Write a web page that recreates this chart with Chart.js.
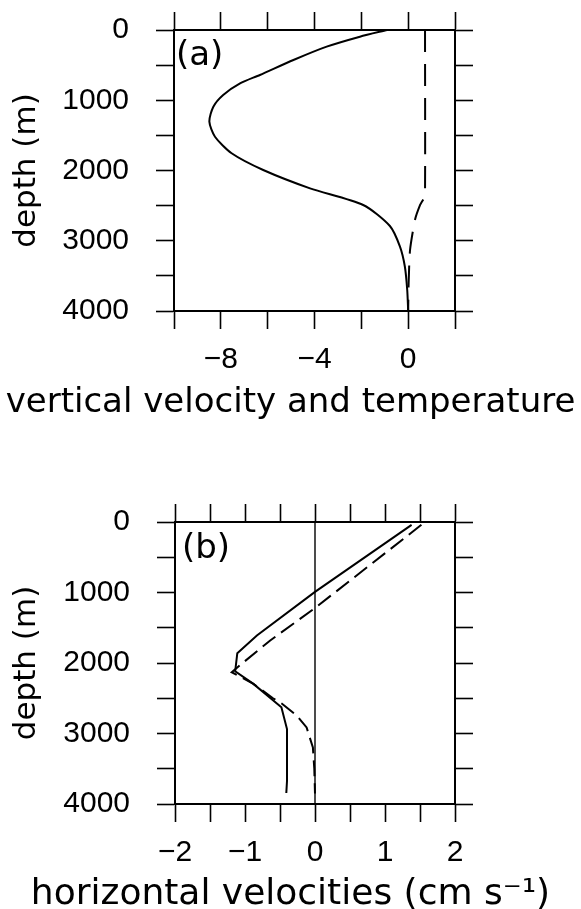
<!DOCTYPE html>
<html><head><meta charset="utf-8">
<script src="https://cdn.jsdelivr.net/npm/chart.js@4.4.1/dist/chart.umd.min.js"></script>
<style>
html,body{margin:0;padding:0;background:#fff;}
body{width:581px;height:909px;position:relative;overflow:hidden;}
canvas{position:absolute;left:0;}
#ca{top:-30px;} #cb{top:440px;}
</style></head><body>
<canvas id="ca" width="581" height="470"></canvas>
<canvas id="cb" width="581" height="469"></canvas>
<script>
// ---------- Panel (a): vertical velocity (solid) and temperature (dashed)
const depthW = [0, 95, 237, 427, 640, 760, 925, 1092, 1305, 1519, 1755, 1993, 2254, 2491, 2790, 3084, 3370, 3701, 4000];
const vertVel = [-0.9, -2.06, -3.48, -4.9, -6.33, -7.18, -7.9, -8.32, -8.49, -8.25, -7.54, -6.19, -4.19, -1.92, -0.78, -0.35, -0.14, -0.04, 0];
const depthT = [0, 2320, 2400, 2491, 2705, 3132, 3600, 4000];
const temperature = [0.72, 0.72, 0.66, 0.51, 0.29, 0.08, 0.02, 0];

// ---------- Panel (b): horizontal velocities u (solid) and v (dashed)
const depthU = [40, 992, 1609, 1861, 2117, 2296, 2629, 2937, 3673, 3844];
const velU = [1.38, 0, -0.83, -1.11, -1.14, -0.88, -0.48, -0.40, -0.40, -0.41];
const depthV = [40, 1220, 1680, 1989, 2131, 2296, 2500, 2572, 2747, 2914, 3199, 3500, 3850];
const velV = [1.52, 0, -0.64, -1.02, -1.19, -0.88, -0.6, -0.48, -0.26, -0.12, -0.03, -0.01, 0];
const zeroDepth = [0, 4000];
const zeroVel = [0, 0];

// ---------- Tick labels and texts
const xTicksA = [-8, -4, 0];
const xLabelsA = ['−8', '−4', '0'];
const xTicksB = [-2, -1, 0, 1, 2];
const xLabelsB = ['−2', '−1', '0', '1', '2'];
const yTicks = [0, 1000, 2000, 3000, 4000];
const yLabels = ['0', '1000', '2000', '3000', '4000'];
const titleA = 'vertical velocity and temperature';
const titleB = 'horizontal velocities (cm s⁻¹)';
const yTitle = 'depth (m)';
const panelA = '(a)';
const panelB = '(b)';

const pts = (xs, ys) => xs.map((x, i) => ({x: x, y: ys[i]}));
const labelFor = (vals, labs) => (v) => {
  const i = vals.findIndex(t => Math.abs(t - v) < 1e-6);
  return i >= 0 ? labs[i] : '';
};

const TICKFONT = {family: "'Liberation Sans', Arial, sans-serif", size: 30, lineHeight: 1.2, weight: 'normal'};
const YTITLEFONT = {family: "'DejaVu Sans', sans-serif", size: 31, lineHeight: 0.8, weight: 'normal'};

const panelLabel = {
  id: 'panelLabel',
  afterDraw(chart, args, o) {
    const {ctx, chartArea} = chart;
    ctx.save();
    ctx.font = "34px 'DejaVu Sans', sans-serif";
    ctx.fillStyle = '#000';
    ctx.textBaseline = 'middle';
    ctx.textAlign = 'left';
    ctx.fillText(o.text, chartArea.left + o.dx, chartArea.top + o.dy);
    ctx.restore();
  }
};

function grid() {
  return {display: true, drawOnChartArea: false, drawTicks: true, tickLength: 18, tickWidth: 1.6, tickColor: '#000'};
}
function border() { return {display: true, color: '#000', width: 2}; }

function makeChart(id, cfg) {
  const fixW = (w) => (s) => { s.width = w; };
  const fixH = (h) => (s) => { s.height = h; };
  return new Chart(document.getElementById(id), {
    type: 'line',
    data: {datasets: cfg.datasets},
    options: {
      responsive: false, maintainAspectRatio: false, animation: false,
      layout: {padding: 0},
      plugins: {
        legend: {display: false}, tooltip: {enabled: false},
        title: {display: true, position: 'bottom', text: cfg.title, color: '#000',
                font: {family: "'DejaVu Sans', sans-serif", size: cfg.titleSize, lineHeight: 0.8, weight: 'normal'},
                padding: {top: cfg.titlePadTop, bottom: cfg.titlePadBottom}},
        panelLabel: {text: cfg.label, dx: cfg.labelDx, dy: cfg.labelDy}
      },
      scales: {
        x: {type: 'linear', position: 'bottom', min: cfg.xmin, max: cfg.xmax,
            ticks: {stepSize: cfg.xstep, autoSkip: false, maxRotation: 0, padding: 12.5, color: '#000', font: TICKFONT,
                    callback: labelFor(cfg.xTicks, cfg.xLabels)},
            grid: grid(), border: border(), afterFit: fixH(60)},
        x2: {type: 'linear', position: 'top', min: cfg.xmin, max: cfg.xmax,
            ticks: {stepSize: cfg.xstep, display: false},
            grid: grid(), border: border(), afterFit: fixH(cfg.topH)},
        y: {type: 'linear', position: 'left', reverse: true, min: 0, max: 4000,
            ticks: {stepSize: 500, autoSkip: false, padding: 27, color: '#000', font: TICKFONT,
                    callback: labelFor(yTicks, yLabels)},
            title: {display: true, text: yTitle, color: '#000', font: YTITLEFONT, padding: {top: 14.6, bottom: 0}},
            grid: grid(), border: border(), afterFit: fixW(cfg.leftW)},
        y2: {type: 'linear', position: 'right', reverse: true, min: 0, max: 4000,
            ticks: {stepSize: 500, display: false},
            grid: grid(), border: border(), afterFit: fixW(126)}
      }
    },
    plugins: [panelLabel]
  });
}

makeChart('ca', {
  title: titleA, titleSize: 34, titlePadTop: 18.4, titlePadBottom: 23.4,
  label: panelA, labelDx: 2, labelDy: 26.5,
  xmin: -10, xmax: 2, xstep: 2, xTicks: xTicksA, xLabels: xLabelsA,
  topH: 60, leftW: 174,
  datasets: [
    {data: pts(vertVel, depthW), borderColor: '#000', borderWidth: 2, pointRadius: 0, tension: 0.25, fill: false},
    {data: pts(temperature, depthT), borderColor: '#000', borderWidth: 2, pointRadius: 0, tension: 0.2, fill: false, borderDash: [22, 12]}
  ]
});

makeChart('cb', {
  title: titleB, titleSize: 36, titlePadTop: 16.2, titlePadBottom: 0,
  label: panelB, labelDx: 7, labelDy: 27,
  xmin: -2, xmax: 2, xstep: 0.5, xTicks: xTicksB, xLabels: xLabelsB,
  topH: 82, leftW: 175,
  datasets: [
    {data: pts(zeroVel, zeroDepth), borderColor: '#000', borderWidth: 1.4, pointRadius: 0, tension: 0, fill: false},
    {data: pts(velU, depthU), borderColor: '#000', borderWidth: 2, pointRadius: 0, tension: 0, fill: false},
    {data: pts(velV, depthV), borderColor: '#000', borderWidth: 2, pointRadius: 0, tension: 0, fill: false, borderDash: [16, 7]}
  ]
});
</script>
</body></html>
